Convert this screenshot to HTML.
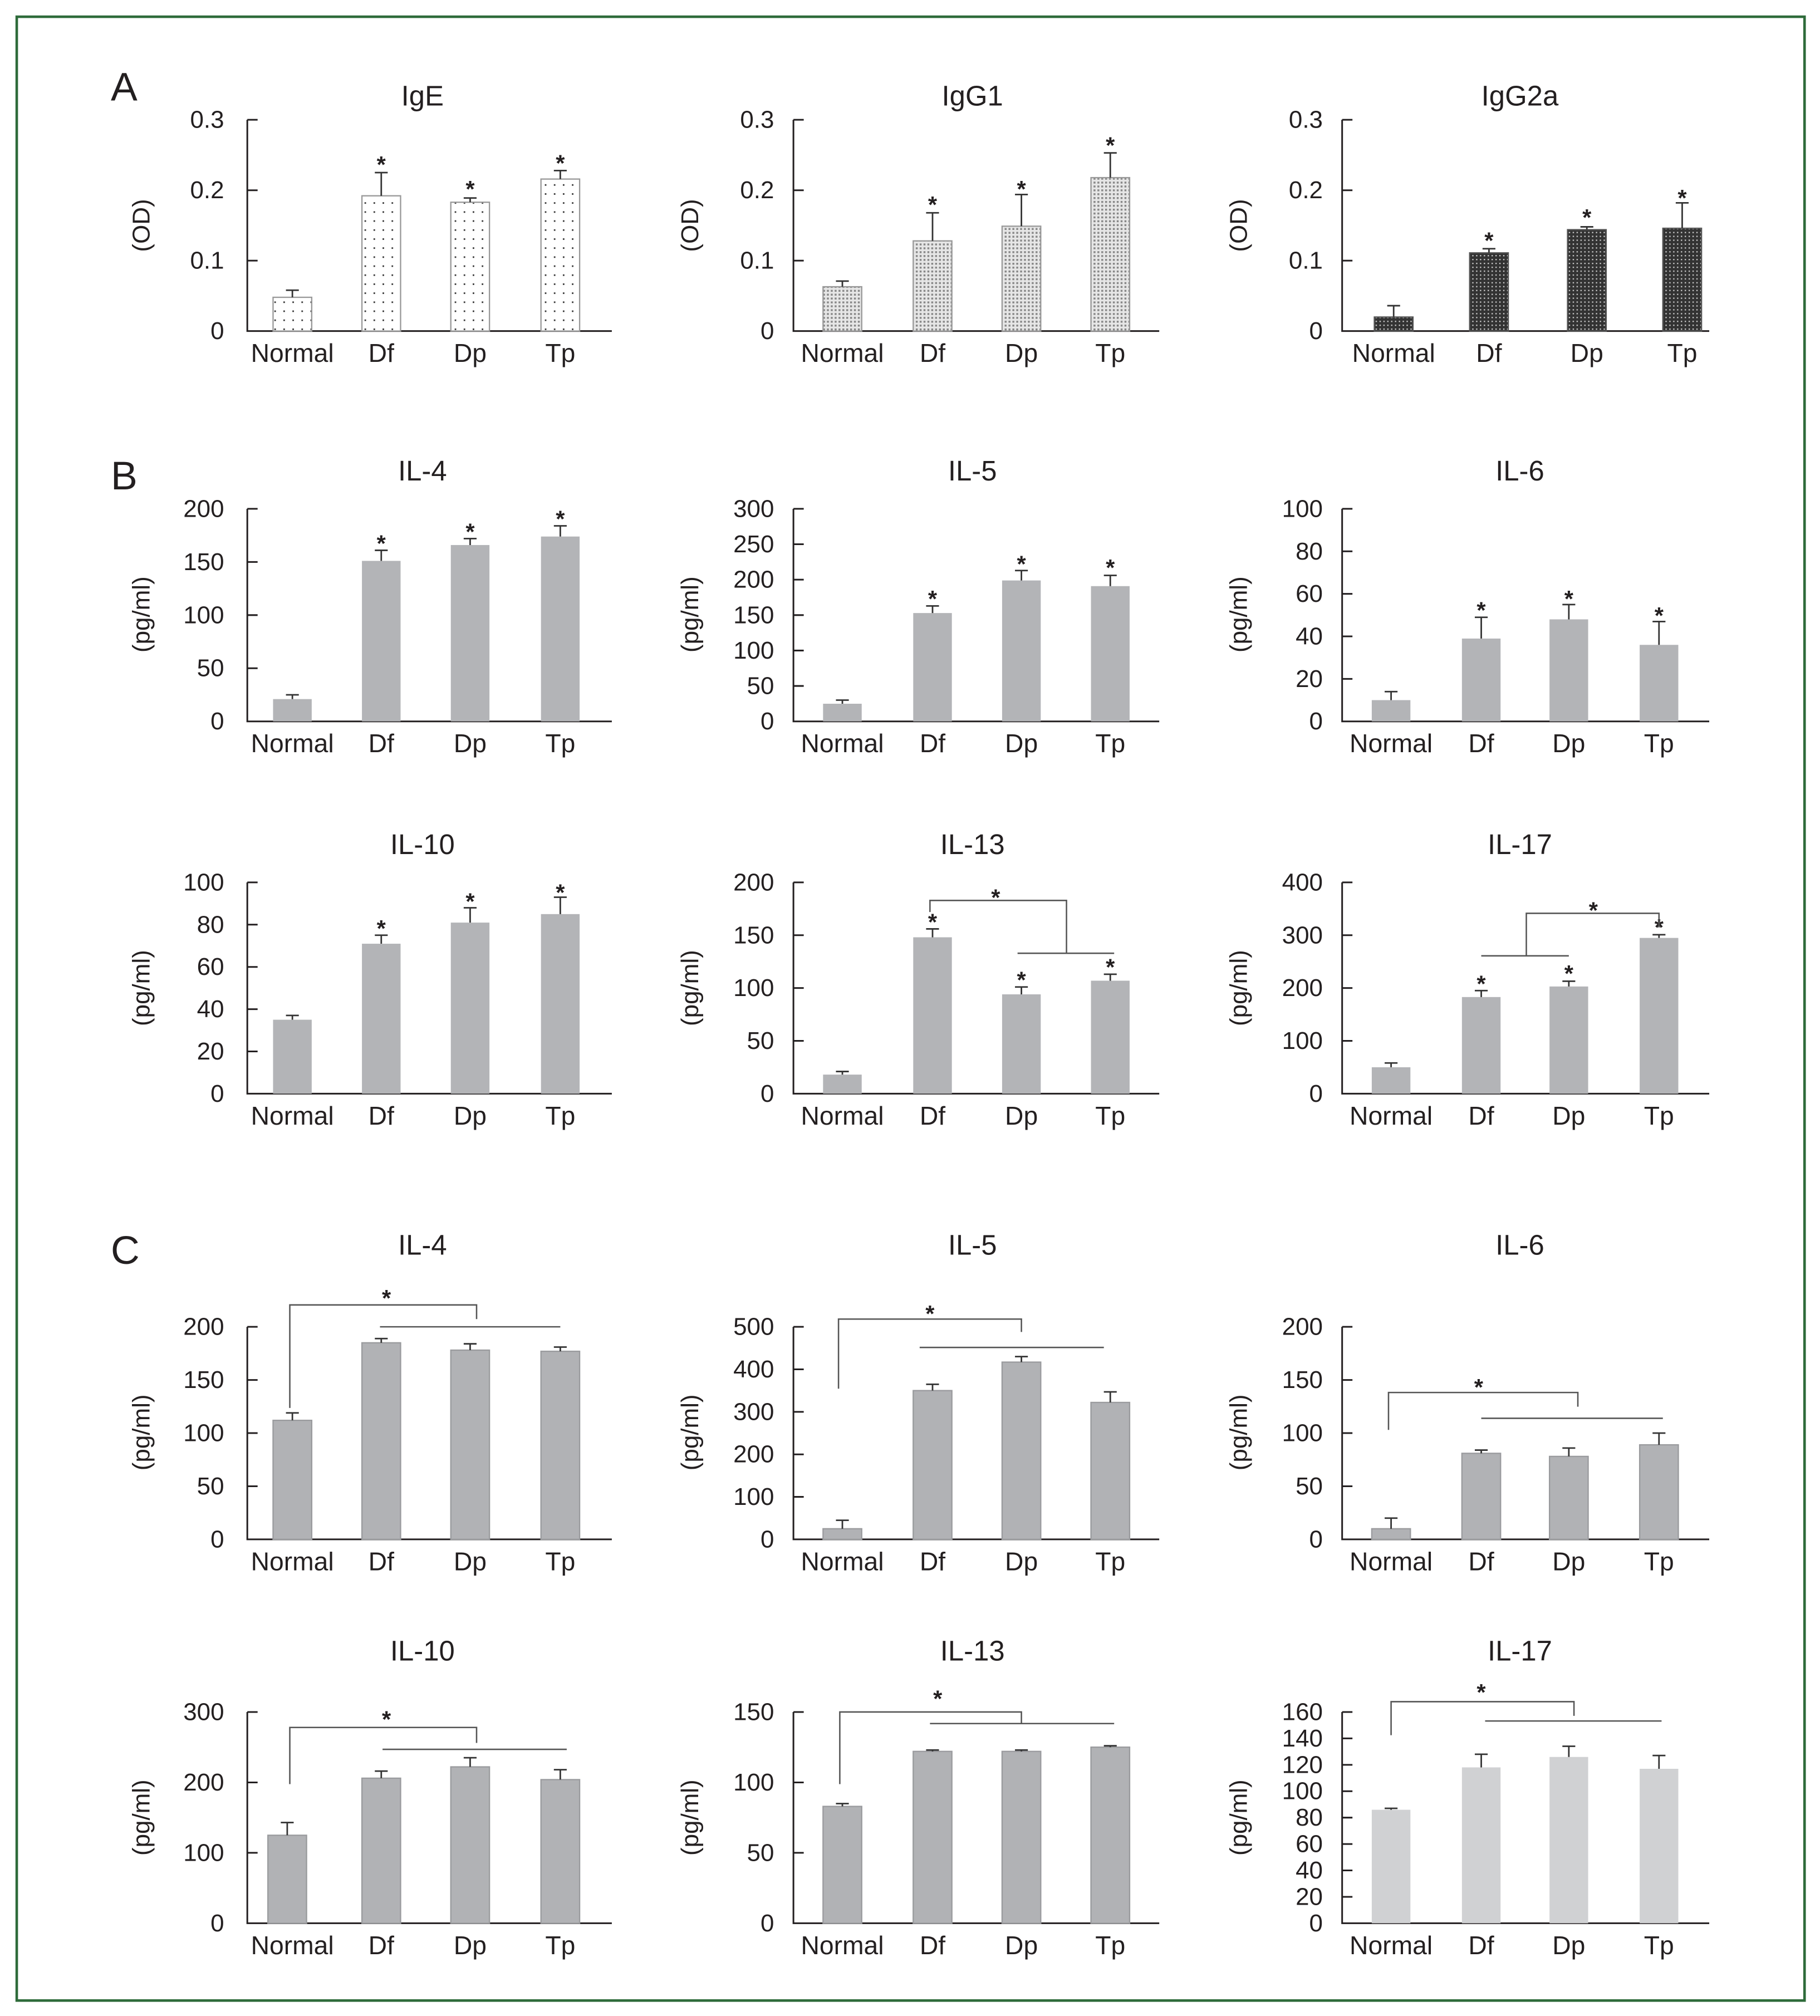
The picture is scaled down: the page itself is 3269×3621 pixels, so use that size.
<!DOCTYPE html>
<html><head><meta charset="utf-8"><style>
html,body{margin:0;padding:0;background:#fff}
svg{display:block}
text{font-family:"Liberation Sans",Arial,sans-serif;fill:#231f20}
.t{font-size:22px;text-anchor:middle}
.k{font-size:19px;text-anchor:end;dominant-baseline:central}
.x{font-size:20px;text-anchor:middle}
.y{font-size:19px;text-anchor:middle}
.s{font-size:18px;text-anchor:middle;font-weight:bold}
.L{font-size:31px}
.ax{stroke:#231f20;stroke-width:1.3;fill:none}
.e{stroke:#333;stroke-width:1.2;fill:none}
.br{stroke:#555;stroke-width:1.1;fill:none}
.g{fill:#b3b4b7}
.g2{fill:#b1b2b5;stroke:#9a9b9e;stroke-width:1}
.g3{fill:#d0d1d3}
</style></head><body>
<svg width="3269" height="3621" viewBox="0 0 1413 1565" preserveAspectRatio="none" xmlns="http://www.w3.org/2000/svg">
<defs>
<pattern id="pd" width="7" height="7" patternUnits="userSpaceOnUse"><rect width="7" height="7" fill="#fff"/><rect x="3" y="3" width="1.2" height="1.2" fill="#333"/></pattern>
<pattern id="pg" width="3" height="3" patternUnits="userSpaceOnUse"><rect width="3" height="3" fill="#e6e6e6"/><rect width="1.5" height="1.5" fill="#888"/></pattern>
<pattern id="pk" width="3" height="3" patternUnits="userSpaceOnUse"><rect width="3" height="3" fill="#333"/><rect width="1" height="1" fill="#ccc"/></pattern>
</defs>
<rect x="13" y="13" width="1388" height="1540" fill="none" stroke="#2e6b3a" stroke-width="2"/>
<text class="L" x="86" y="78">A</text>
<text class="L" x="86" y="380">B</text>
<text class="L" x="86" y="981">C</text>

<!-- ROW A -->
<text class="t" x="328" y="82">IgE</text>
<text class="y" transform="translate(116,175) rotate(-90)">(OD)</text>
<path class="ax" d="M192 93V257H475M192 93h8M192 147.7h8M192 202.3h8"/>
<text class="k" x="174" y="93">0.3</text><text class="k" x="174" y="147.7">0.2</text><text class="k" x="174" y="202.3">0.1</text><text class="k" x="174" y="257">0</text>
<g fill="url(#pd)" stroke="#999" stroke-width="1">
<rect x="212" y="230.8" width="30" height="26.2"/><rect x="281" y="152" width="30" height="105"/><rect x="350" y="157" width="30" height="100"/><rect x="420" y="139" width="30" height="118"/></g>
<path class="e" d="M227 230.8V225.3M222 225.3h10M296 152V134M291 134h10M365 157V153.7M360 153.7h10M435 139V132.4M430 132.4h10"/>
<text class="s" x="296" y="134">*</text><text class="s" x="365" y="153">*</text><text class="s" x="435" y="133">*</text>
<text class="x" x="227" y="281">Normal</text><text class="x" x="296" y="281">Df</text><text class="x" x="365" y="281">Dp</text><text class="x" x="435" y="281">Tp</text>

<text class="t" x="755" y="82">IgG1</text>
<text class="y" transform="translate(542,175) rotate(-90)">(OD)</text>
<path class="ax" d="M616 93V257H900M616 93h8M616 147.7h8M616 202.3h8"/>
<text class="k" x="601" y="93">0.3</text><text class="k" x="601" y="147.7">0.2</text><text class="k" x="601" y="202.3">0.1</text><text class="k" x="601" y="257">0</text>
<g fill="url(#pg)" stroke="#999" stroke-width="1">
<rect x="639" y="222.6" width="30" height="34.4"/><rect x="709" y="187" width="30" height="70"/><rect x="778" y="175.6" width="30" height="81.4"/><rect x="847" y="137.9" width="30" height="119.1"/></g>
<path class="e" d="M654 222.6V218.2M649 218.2h10M724 187V165.2M719 165.2h10M793 175.6V151M788 151h10M862 137.9V118.7M857 118.7h10"/>
<text class="s" x="724" y="165">*</text><text class="s" x="793" y="153">*</text><text class="s" x="862" y="119">*</text>
<text class="x" x="654" y="281">Normal</text><text class="x" x="724" y="281">Df</text><text class="x" x="793" y="281">Dp</text><text class="x" x="862" y="281">Tp</text>

<text class="t" x="1180" y="82">IgG2a</text>
<text class="y" transform="translate(968,175) rotate(-90)">(OD)</text>
<path class="ax" d="M1042 93V257H1327M1042 93h8M1042 147.7h8M1042 202.3h8"/>
<text class="k" x="1027" y="93">0.3</text><text class="k" x="1027" y="147.7">0.2</text><text class="k" x="1027" y="202.3">0.1</text><text class="k" x="1027" y="257">0</text>
<g fill="url(#pk)" stroke="#555" stroke-width="1">
<rect x="1067" y="246.1" width="30" height="10.9"/><rect x="1141" y="196.3" width="30" height="60.7"/><rect x="1217" y="178.3" width="30" height="78.7"/><rect x="1291" y="177.2" width="30" height="79.8"/></g>
<path class="e" d="M1082 246.1V237.3M1077 237.3h10M1156 196.3V193.1M1151 193.1h10M1232 178.3V176.1M1227 176.1h10M1306 177.2V157.5M1301 157.5h10"/>
<text class="s" x="1156" y="193">*</text><text class="s" x="1232" y="175">*</text><text class="s" x="1306" y="160">*</text>
<text class="x" x="1082" y="281">Normal</text><text class="x" x="1156" y="281">Df</text><text class="x" x="1232" y="281">Dp</text><text class="x" x="1306" y="281">Tp</text>

<!-- ROW B1 -->
<text class="t" x="328" y="373">IL-4</text>
<text class="y" transform="translate(116,477) rotate(-90)">(pg/ml)</text>
<path class="ax" d="M192 395V560H475M192 395h8M192 436.25h8M192 477.5h8M192 518.75h8"/>
<text class="k" x="174" y="395">200</text><text class="k" x="174" y="436.25">150</text><text class="k" x="174" y="477.5">100</text><text class="k" x="174" y="518.75">50</text><text class="k" x="174" y="560">0</text>
<g class="g"><rect x="212" y="542.7" width="30" height="17.3"/><rect x="281" y="435.4" width="30" height="124.6"/><rect x="350" y="423.1" width="30" height="136.9"/><rect x="420" y="416.5" width="30" height="143.5"/></g>
<path class="e" d="M227 542.7V539.4M222 539.4h10M296 435.4V427.2M291 427.2h10M365 423.1V418.1M360 418.1h10M435 416.5V408.2M430 408.2h10"/>
<text class="s" x="296" y="428">*</text><text class="s" x="365" y="419">*</text><text class="s" x="435" y="409">*</text>
<text class="x" x="227" y="584">Normal</text><text class="x" x="296" y="584">Df</text><text class="x" x="365" y="584">Dp</text><text class="x" x="435" y="584">Tp</text>

<text class="t" x="755" y="373">IL-5</text>
<text class="y" transform="translate(542,477) rotate(-90)">(pg/ml)</text>
<path class="ax" d="M616 395V560H900M616 395h8M616 422.5h8M616 450h8M616 477.5h8M616 505h8M616 532.5h8"/>
<text class="k" x="601" y="395">300</text><text class="k" x="601" y="422.5">250</text><text class="k" x="601" y="450">200</text><text class="k" x="601" y="477.5">150</text><text class="k" x="601" y="505">100</text><text class="k" x="601" y="532.5">50</text><text class="k" x="601" y="560">0</text>
<g class="g"><rect x="639" y="546.3" width="30" height="13.7"/><rect x="709" y="475.9" width="30" height="84.1"/><rect x="778" y="450.6" width="30" height="109.4"/><rect x="847" y="455" width="30" height="105"/></g>
<path class="e" d="M654 546.3V543.5M649 543.5h10M724 475.9V470.4M719 470.4h10M793 450.6V442.9M788 442.9h10M862 455V446.7M857 446.7h10"/>
<text class="s" x="724" y="471">*</text><text class="s" x="793" y="444">*</text><text class="s" x="862" y="447">*</text>
<text class="x" x="654" y="584">Normal</text><text class="x" x="724" y="584">Df</text><text class="x" x="793" y="584">Dp</text><text class="x" x="862" y="584">Tp</text>

<text class="t" x="1180" y="373">IL-6</text>
<text class="y" transform="translate(968,477) rotate(-90)">(pg/ml)</text>
<path class="ax" d="M1042 395V560H1327M1042 395h8M1042 428h8M1042 461h8M1042 494h8M1042 527h8"/>
<text class="k" x="1027" y="395">100</text><text class="k" x="1027" y="428">80</text><text class="k" x="1027" y="461">60</text><text class="k" x="1027" y="494">40</text><text class="k" x="1027" y="527">20</text><text class="k" x="1027" y="560">0</text>
<g class="g"><rect x="1065" y="543.5" width="30" height="16.5"/><rect x="1135" y="495.7" width="30" height="64.3"/><rect x="1203" y="480.8" width="30" height="79.2"/><rect x="1273" y="500.6" width="30" height="59.4"/></g>
<path class="e" d="M1080 543.5V536.9M1075 536.9h10M1150 495.7V479.2M1145 479.2h10M1218 480.8V469.3M1213 469.3h10M1288 500.6V482.5M1283 482.5h10"/>
<text class="s" x="1150" y="480">*</text><text class="s" x="1218" y="471">*</text><text class="s" x="1288" y="484">*</text>
<text class="x" x="1080" y="584">Normal</text><text class="x" x="1150" y="584">Df</text><text class="x" x="1218" y="584">Dp</text><text class="x" x="1288" y="584">Tp</text>

<!-- ROW B2 -->
<text class="t" x="328" y="663">IL-10</text>
<text class="y" transform="translate(116,767) rotate(-90)">(pg/ml)</text>
<path class="ax" d="M192 685V849H475M192 685h8M192 717.8h8M192 750.6h8M192 783.4h8M192 816.2h8"/>
<text class="k" x="174" y="685">100</text><text class="k" x="174" y="717.8">80</text><text class="k" x="174" y="750.6">60</text><text class="k" x="174" y="783.4">40</text><text class="k" x="174" y="816.2">20</text><text class="k" x="174" y="849">0</text>
<g class="g"><rect x="212" y="791.6" width="30" height="57.4"/><rect x="281" y="732.6" width="30" height="116.4"/><rect x="350" y="716.2" width="30" height="132.8"/><rect x="420" y="709.6" width="30" height="139.4"/></g>
<path class="e" d="M227 791.6V788.3M222 788.3h10M296 732.6V726M291 726h10M365 716.2V704.7M360 704.7h10M435 709.6V696.5M430 696.5h10"/>
<text class="s" x="296" y="727">*</text><text class="s" x="365" y="706">*</text><text class="s" x="435" y="699">*</text>
<text class="x" x="227" y="873">Normal</text><text class="x" x="296" y="873">Df</text><text class="x" x="365" y="873">Dp</text><text class="x" x="435" y="873">Tp</text>

<text class="t" x="755" y="663">IL-13</text>
<text class="y" transform="translate(542,767) rotate(-90)">(pg/ml)</text>
<path class="ax" d="M616 685V849H900M616 685h8M616 726h8M616 767h8M616 808h8"/>
<text class="k" x="601" y="685">200</text><text class="k" x="601" y="726">150</text><text class="k" x="601" y="767">100</text><text class="k" x="601" y="808">50</text><text class="k" x="601" y="849">0</text>
<g class="g"><rect x="639" y="834.2" width="30" height="14.8"/><rect x="709" y="727.6" width="30" height="121.4"/><rect x="778" y="771.9" width="30" height="77.1"/><rect x="847" y="761.3" width="30" height="87.7"/></g>
<path class="e" d="M654 834.2V831.8M649 831.8h10M724 727.6V721.1M719 721.1h10M793 771.9V766.2M788 766.2h10M862 761.3V756.3M857 756.3h10"/>
<text class="s" x="724" y="722">*</text><text class="s" x="793" y="767">*</text><text class="s" x="862" y="757">*</text>
<path class="br" d="M722 708V699H828V740M790 740H865"/>
<text class="s" x="773" y="703">*</text>
<text class="x" x="654" y="873">Normal</text><text class="x" x="724" y="873">Df</text><text class="x" x="793" y="873">Dp</text><text class="x" x="862" y="873">Tp</text>

<text class="t" x="1180" y="663">IL-17</text>
<text class="y" transform="translate(968,767) rotate(-90)">(pg/ml)</text>
<path class="ax" d="M1042 685V849H1327M1042 685h8M1042 726h8M1042 767h8M1042 808h8"/>
<text class="k" x="1027" y="685">400</text><text class="k" x="1027" y="726">300</text><text class="k" x="1027" y="767">200</text><text class="k" x="1027" y="808">100</text><text class="k" x="1027" y="849">0</text>
<g class="g"><rect x="1065" y="828.5" width="30" height="20.5"/><rect x="1135" y="774" width="30" height="75"/><rect x="1203" y="765.8" width="30" height="83.2"/><rect x="1273" y="728.1" width="30" height="120.9"/></g>
<path class="e" d="M1080 828.5V825.2M1075 825.2h10M1150 774V769M1145 769h10M1218 765.8V761.7M1213 761.7h10M1288 728.1V725.6M1283 725.6h10"/>
<text class="s" x="1150" y="770">*</text><text class="s" x="1218" y="762">*</text><text class="s" x="1288" y="726">*</text>
<path class="br" d="M1150 742H1218M1185 742V709H1288V720"/>
<text class="s" x="1237" y="713">*</text>
<text class="x" x="1080" y="873">Normal</text><text class="x" x="1150" y="873">Df</text><text class="x" x="1218" y="873">Dp</text><text class="x" x="1288" y="873">Tp</text>

<!-- ROW C1 -->
<text class="t" x="328" y="974">IL-4</text>
<text class="y" transform="translate(116,1112) rotate(-90)">(pg/ml)</text>
<path class="ax" d="M192 1030V1195H475M192 1030h8M192 1071.25h8M192 1112.5h8M192 1153.75h8"/>
<text class="k" x="174" y="1030">200</text><text class="k" x="174" y="1071.25">150</text><text class="k" x="174" y="1112.5">100</text><text class="k" x="174" y="1153.75">50</text><text class="k" x="174" y="1195">0</text>
<g class="g2"><rect x="212" y="1102.6" width="30" height="92.4"/><rect x="281" y="1042.4" width="30" height="152.6"/><rect x="350" y="1048.1" width="30" height="146.9"/><rect x="420" y="1049" width="30" height="146"/></g>
<path class="e" d="M227 1102.6V1096.8M222 1096.8h10M296 1042.4V1039.1M291 1039.1h10M365 1048.1V1043.2M360 1043.2h10M435 1049V1045.7M430 1045.7h10"/>
<path class="br" d="M225 1093V1013H370V1024M295 1030H435"/>
<text class="s" x="300" y="1014">*</text>
<text class="x" x="227" y="1219">Normal</text><text class="x" x="296" y="1219">Df</text><text class="x" x="365" y="1219">Dp</text><text class="x" x="435" y="1219">Tp</text>

<text class="t" x="755" y="974">IL-5</text>
<text class="y" transform="translate(542,1112) rotate(-90)">(pg/ml)</text>
<path class="ax" d="M616 1030V1195H900M616 1030h8M616 1063h8M616 1096h8M616 1129h8M616 1162h8"/>
<text class="k" x="601" y="1030">500</text><text class="k" x="601" y="1063">400</text><text class="k" x="601" y="1096">300</text><text class="k" x="601" y="1129">200</text><text class="k" x="601" y="1162">100</text><text class="k" x="601" y="1195">0</text>
<g class="g2"><rect x="639" y="1186.75" width="30" height="8.25"/><rect x="709" y="1079.5" width="30" height="115.5"/><rect x="778" y="1057.4" width="30" height="137.6"/><rect x="847" y="1088.7" width="30" height="106.3"/></g>
<path class="e" d="M654 1186.75V1180.2M649 1180.2h10M724 1079.5V1074.6M719 1074.6h10M793 1057.4V1053.1M788 1053.1h10M862 1088.7V1080.5M857 1080.5h10"/>
<path class="br" d="M651 1078V1024H793V1034M714 1046H857"/>
<text class="s" x="722" y="1026">*</text>
<text class="x" x="654" y="1219">Normal</text><text class="x" x="724" y="1219">Df</text><text class="x" x="793" y="1219">Dp</text><text class="x" x="862" y="1219">Tp</text>

<text class="t" x="1180" y="974">IL-6</text>
<text class="y" transform="translate(968,1112) rotate(-90)">(pg/ml)</text>
<path class="ax" d="M1042 1030V1195H1327M1042 1030h8M1042 1071.25h8M1042 1112.5h8M1042 1153.75h8"/>
<text class="k" x="1027" y="1030">200</text><text class="k" x="1027" y="1071.25">150</text><text class="k" x="1027" y="1112.5">100</text><text class="k" x="1027" y="1153.75">50</text><text class="k" x="1027" y="1195">0</text>
<g class="g2"><rect x="1065" y="1186.75" width="30" height="8.25"/><rect x="1135" y="1128.2" width="30" height="66.8"/><rect x="1203" y="1130.6" width="30" height="64.4"/><rect x="1273" y="1121.6" width="30" height="73.4"/></g>
<path class="e" d="M1080 1186.75V1178.5M1075 1178.5h10M1150 1128.2V1125.7M1145 1125.7h10M1218 1130.6V1124.1M1213 1124.1h10M1288 1121.6V1112.5M1283 1112.5h10"/>
<path class="br" d="M1078 1110V1081H1225V1092M1150 1101H1291"/>
<text class="s" x="1148" y="1083">*</text>
<text class="x" x="1080" y="1219">Normal</text><text class="x" x="1150" y="1219">Df</text><text class="x" x="1218" y="1219">Dp</text><text class="x" x="1288" y="1219">Tp</text>

<!-- ROW C2 -->
<text class="t" x="328" y="1289">IL-10</text>
<text class="y" transform="translate(116,1411) rotate(-90)">(pg/ml)</text>
<path class="ax" d="M192 1329V1493H475M192 1329h8M192 1383.7h8M192 1438.3h8"/>
<text class="k" x="174" y="1329">300</text><text class="k" x="174" y="1383.7">200</text><text class="k" x="174" y="1438.3">100</text><text class="k" x="174" y="1493">0</text>
<g class="g2"><rect x="208" y="1424.7" width="30" height="68.3"/><rect x="281" y="1380.4" width="30" height="112.6"/><rect x="350" y="1371.6" width="30" height="121.4"/><rect x="420" y="1381.5" width="30" height="111.5"/></g>
<path class="e" d="M223 1424.7V1414.8M218 1414.8h10M296 1380.4V1374.9M291 1374.9h10M365 1371.6V1364.5M360 1364.5h10M435 1381.5V1373.8M430 1373.8h10"/>
<path class="br" d="M225 1385V1341H370V1353M297 1358H440"/>
<text class="s" x="300" y="1341">*</text>
<text class="x" x="227" y="1517">Normal</text><text class="x" x="296" y="1517">Df</text><text class="x" x="365" y="1517">Dp</text><text class="x" x="435" y="1517">Tp</text>

<text class="t" x="755" y="1289">IL-13</text>
<text class="y" transform="translate(542,1411) rotate(-90)">(pg/ml)</text>
<path class="ax" d="M616 1329V1493H900M616 1329h8M616 1383.7h8M616 1438.3h8"/>
<text class="k" x="601" y="1329">150</text><text class="k" x="601" y="1383.7">100</text><text class="k" x="601" y="1438.3">50</text><text class="k" x="601" y="1493">0</text>
<g class="g2"><rect x="639" y="1402.3" width="30" height="90.7"/><rect x="709" y="1359.6" width="30" height="133.4"/><rect x="778" y="1359.6" width="30" height="133.4"/><rect x="847" y="1356.3" width="30" height="136.7"/></g>
<path class="e" d="M654 1402.3V1400.1M649 1400.1h10M724 1359.6V1358.5M719 1358.5h10M793 1359.6V1358.5M788 1358.5h10M862 1356.3V1355.2M857 1355.2h10"/>
<path class="br" d="M652 1385V1329H793V1338M722 1338H865"/>
<text class="s" x="728" y="1325">*</text>
<text class="x" x="654" y="1517">Normal</text><text class="x" x="724" y="1517">Df</text><text class="x" x="793" y="1517">Dp</text><text class="x" x="862" y="1517">Tp</text>

<text class="t" x="1180" y="1289">IL-17</text>
<text class="y" transform="translate(968,1411) rotate(-90)">(pg/ml)</text>
<path class="ax" d="M1042 1329V1493H1327M1042 1329h8M1042 1349.5h8M1042 1370h8M1042 1390.5h8M1042 1411h8M1042 1431.5h8M1042 1452h8M1042 1472.5h8"/>
<text class="k" x="1027" y="1329">160</text><text class="k" x="1027" y="1349.5">140</text><text class="k" x="1027" y="1370">120</text><text class="k" x="1027" y="1390.5">100</text><text class="k" x="1027" y="1411">80</text><text class="k" x="1027" y="1431.5">60</text><text class="k" x="1027" y="1452">40</text><text class="k" x="1027" y="1472.5">20</text><text class="k" x="1027" y="1493">0</text>
<g class="g3"><rect x="1065" y="1404.9" width="30" height="88.1"/><rect x="1135" y="1372" width="30" height="121"/><rect x="1203" y="1363.9" width="30" height="129.1"/><rect x="1273" y="1373.1" width="30" height="119.9"/></g>
<path class="e" d="M1080 1404.9V1403.8M1075 1403.8h10M1150 1372V1361.8M1145 1361.8h10M1218 1363.9V1355.6M1213 1355.6h10M1288 1373.1V1362.8M1283 1362.8h10"/>
<path class="br" d="M1080 1347V1321H1222V1332M1153 1336H1290"/>
<text class="s" x="1150" y="1320">*</text>
<text class="x" x="1080" y="1517">Normal</text><text class="x" x="1150" y="1517">Df</text><text class="x" x="1218" y="1517">Dp</text><text class="x" x="1288" y="1517">Tp</text>
</svg>
</body></html>
